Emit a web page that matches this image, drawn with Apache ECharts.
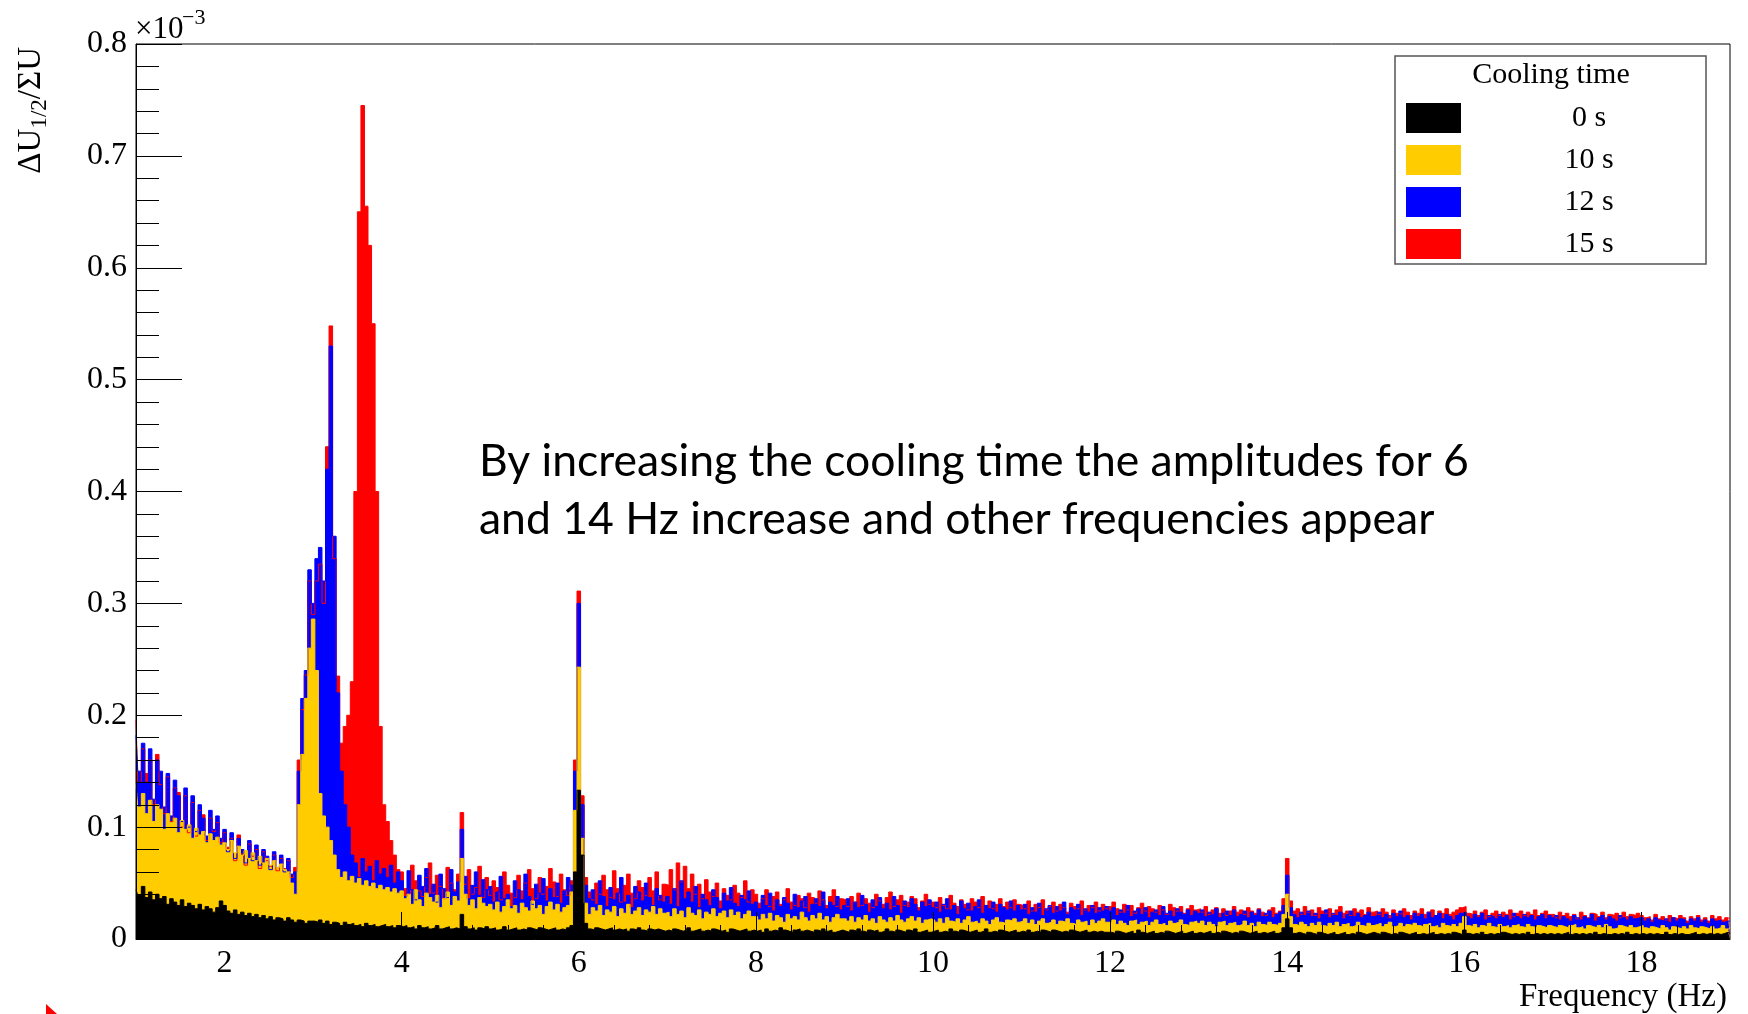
<!DOCTYPE html>
<html><head><meta charset="utf-8">
<script src="https://cdn.jsdelivr.net/npm/echarts@6/dist/echarts.min.js"></script>
<style>html,body{margin:0;padding:0;background:#fff}#c{width:1748px;height:1014px}</style>
</head><body><div id="c"></div>
<script>
// Histogram bin centres: 1.00, 1.04, ... 19.00 Hz
const FREQ_START = 1.0, FREQ_STEP = 0.04;
const xTickValues = [2, 4, 6, 8, 10, 12, 14, 16, 18];
const xMinorTickValues = [1.2,1.6,2.4,2.8,3.2,3.6,4.4,4.8,5.2,5.6,6.4,6.8,7.2,7.6,8.4,8.8,9.2,9.6,10.4,10.8,11.2,11.6,12.4,12.8,13.2,13.6,14.4,14.8,15.2,15.6,16.4,16.8,17.2,17.6,18.4,18.8];
const legendNames = ['0 s', '10 s', '12 s', '15 s'];
// Amplitudes in units of 1e-6 (axis shows x10^-3)
const cool0 = [
44,39,47,37,42,35,40,36,38,31,36,33,30,35,29,32,30,27,31,26,29,27,24,28,34,
30,25,23,26,22,24,21,23,20,22,19,21,18,20,17,19,18,16,19,17,15,17,16,14,16,
16,15,17,14,16,13,15,14,12,15,13,14,12,13,11,14,12,13,11,12,13,11,12,10,12,
11,12,10,11,9,12,10,11,9,10,12,9,10,11,9,10,9,22,11,9,10,8,10,9,11,
9,10,8,9,11,8,9,10,8,9,8,10,9,8,10,9,8,9,10,8,9,8,10,12,60,
133,75,14,9,8,10,9,8,9,10,8,9,8,9,7,9,8,10,8,7,9,8,9,8,7,
8,7,9,8,7,8,10,7,8,9,7,8,7,9,8,7,8,6,9,8,7,8,9,7,8,
7,8,6,9,7,8,7,10,8,7,6,8,9,7,8,7,6,8,7,9,7,8,6,7,8,
7,6,8,7,9,7,6,8,7,8,6,7,9,7,6,8,7,6,8,7,9,6,7,8,6,
7,8,6,7,6,9,7,6,8,7,6,7,8,6,7,9,6,7,6,8,7,6,7,8,6,
7,6,8,6,7,6,8,7,6,8,7,6,7,6,8,7,6,7,8,6,7,6,7,6,6,
6,5,7,6,5,6,7,5,8,6,5,6,7,5,6,5,7,6,5,6,7,5,6,7,5,
6,5,6,7,5,6,5,7,6,5,6,5,7,6,5,6,7,5,6,5,6,7,5,6,10,
18,10,5,6,5,4,6,5,4,6,5,4,5,6,4,5,6,4,5,4,6,5,4,5,6,
5,4,6,5,4,5,4,6,5,4,5,6,4,5,4,5,6,4,5,4,5,4,6,5,4,
8,5,4,5,4,6,4,5,4,5,4,6,5,4,5,4,5,4,6,4,5,4,5,4,5,
4,5,4,5,6,4,5,4,5,4,5,4,6,4,5,4,4,5,4,5,4,6,4,5,4,
5,4,5,4,5,4,4,6,4,5,4,5,4,4,5,6,4,5,4,5,4,5,4,5,6,
5];
const cool10 = [
138,118,130,112,124,105,120,116,98,112,104,108,95,106,98,102,90,99,93,96,86,94,88,91,84,
86,80,88,77,83,75,79,72,77,70,74,68,72,66,70,64,67,62,60,50,40,120,165,215,260,
286,240,130,110,100,88,75,62,55,60,52,56,50,54,48,52,47,50,45,48,44,46,42,45,41,
43,36,40,31,44,35,29,41,37,33,39,28,36,42,30,38,34,72,40,30,35,27,37,32,29,
31,26,33,24,29,35,27,30,23,32,28,25,34,27,30,22,29,33,26,31,24,28,30,42,115,
243,90,32,22,28,25,30,21,26,24,29,20,27,23,31,22,25,28,21,26,24,29,22,27,23,
24,20,27,22,25,19,28,23,21,26,18,24,22,27,20,23,25,19,26,21,24,18,22,25,20,
20,17,22,18,23,16,21,19,15,22,18,20,17,24,19,16,21,18,23,17,20,15,19,22,18,
18,16,20,15,19,17,21,16,18,14,20,17,15,19,16,21,17,15,18,20,16,19,14,17,18,
17,15,18,14,19,16,15,18,14,17,20,15,16,14,18,16,13,17,19,15,14,17,16,18,15,
16,18,14,17,13,16,18,14,15,17,13,16,15,18,14,13,17,15,16,12,17,14,16,18,15,
15,17,13,16,14,12,16,17,13,15,16,12,15,17,13,14,12,16,14,15,17,13,12,15,16,
14,16,12,15,13,11,15,16,12,14,15,12,13,16,12,14,11,15,13,12,15,13,12,14,22,
40,20,13,12,15,13,11,14,12,15,12,11,14,12,15,11,13,14,11,12,15,12,11,14,12,
13,14,11,13,15,11,12,14,11,13,12,14,12,11,13,14,11,12,10,14,12,11,13,11,14,
20,12,11,13,10,12,11,14,11,10,13,11,12,10,12,13,11,10,13,11,10,12,11,10,12,
11,10,12,11,10,12,13,10,11,9,12,11,10,12,10,13,11,9,10,12,11,10,12,10,11,
12,10,9,11,10,9,12,10,8,11,10,9,11,9,12,10,9,11,10,9,11,9,10,12,9,
10];
const cool12 = [
182,150,175,140,170,125,160,150,118,148,110,142,128,105,135,100,128,96,120,108,92,115,98,110,90,
98,78,95,72,90,80,68,88,70,84,66,80,74,62,78,64,75,60,72,58,60,150,215,240,330,
300,340,350,320,420,530,360,220,150,120,100,75,68,55,72,60,65,52,70,58,63,55,66,50,60,
52,38,61,44,35,57,47,63,40,49,33,58,45,37,62,42,51,98,56,36,48,60,39,53,44,
47,33,42,56,36,40,29,52,44,35,58,38,31,49,41,54,34,45,37,50,32,43,55,48,150,
300,120,48,36,44,31,52,38,29,46,35,41,55,33,39,28,47,42,34,50,37,30,45,39,33,
38,31,45,29,52,36,42,33,47,28,40,35,30,44,37,27,41,34,46,32,29,39,35,43,31,
33,27,39,30,41,25,35,29,37,32,26,40,28,34,38,24,31,36,29,42,27,33,30,38,26,
30,36,25,33,28,39,31,24,35,29,37,27,32,26,38,30,23,34,28,36,31,25,33,29,35,
28,33,24,31,36,26,30,22,34,27,32,25,29,35,23,30,27,33,24,31,28,26,34,25,30,
26,31,22,28,24,32,21,27,30,23,29,25,33,22,28,26,31,21,27,24,30,23,28,25,29,
25,28,21,26,23,30,20,25,27,22,28,19,24,26,21,29,23,25,20,27,24,22,26,21,25,
23,26,20,24,22,27,19,23,25,21,26,20,22,25,19,24,21,26,20,23,25,19,22,24,30,
57,28,22,19,24,21,25,20,23,18,22,26,19,23,21,24,18,22,25,20,23,19,21,24,20,
21,24,19,22,18,23,20,25,19,21,17,23,20,22,18,24,19,21,23,18,22,20,17,21,23,
24,20,18,22,19,23,17,21,20,18,22,19,21,17,23,20,18,22,19,21,17,20,22,18,21,
19,21,17,20,18,16,21,19,17,20,18,22,16,19,21,17,20,18,16,21,19,17,20,18,19,
19,16,18,15,19,17,16,18,15,19,16,18,17,14,18,16,19,15,17,14,18,16,17,15,16,
16];
const cool15 = [
196,140,170,148,160,120,165,138,112,145,105,135,131,100,128,95,122,92,115,111,88,108,96,104,86,
95,82,90,70,93,76,66,85,74,80,63,78,70,65,75,61,72,63,70,55,64,160,205,236,320,
290,320,335,300,440,548,340,235,175,190,200,230,400,650,745,655,620,550,400,190,120,105,88,75,62,
60,45,40,66,52,43,38,55,68,41,57,47,36,64,50,44,58,113,49,62,40,46,65,37,55,
39,52,46,35,60,48,41,37,57,43,50,62,45,36,55,40,47,63,51,38,58,44,39,52,160,
311,128,55,42,35,50,40,57,44,37,61,45,33,48,58,41,36,52,46,39,55,43,60,35,49,
48,62,44,68,51,65,45,58,40,49,36,53,42,38,50,34,45,39,35,48,41,37,52,33,44,
40,32,36,44,29,38,42,31,35,45,33,30,39,36,28,41,37,32,43,35,30,38,44,29,36,
35,29,38,33,41,30,36,32,28,40,34,31,37,42,29,35,39,30,33,38,36,28,34,40,31,
33,28,37,30,27,39,32,29,35,31,26,36,33,28,38,30,34,27,31,36,29,33,28,35,31,
30,27,34,25,31,28,35,26,29,33,25,31,28,24,32,29,27,34,26,30,28,33,25,31,27,
29,33,27,24,31,26,30,23,28,32,25,29,27,24,30,26,22,31,28,25,29,23,27,30,26,
27,24,29,22,26,28,23,27,21,25,29,24,26,22,28,25,23,27,24,21,26,28,23,25,36,
72,34,25,27,22,29,24,26,21,28,25,23,27,22,26,29,23,25,21,27,24,26,22,28,24,
25,22,27,24,21,26,23,22,27,24,21,25,23,27,22,24,26,21,25,23,27,22,24,26,28,
29,23,22,25,21,24,26,20,23,25,21,24,22,26,20,23,25,21,24,22,26,21,23,25,22,
22,19,24,21,23,20,22,18,24,21,19,23,22,20,24,19,22,21,23,19,24,20,22,21,23,
21,19,20,17,22,18,20,17,21,19,18,21,19,16,20,18,21,17,19,16,21,18,20,17,19,
18];

const SERIF = 'Liberation Serif';
const freq = cool0.map((_, k) => +(FREQ_START + FREQ_STEP * k).toFixed(2));
const toPairs = arr => arr.map((v, k) => [freq[k], v / 1000]);

function hist(name, arr, color) {
  return {
    name, type: 'line', step: 'middle', data: toPairs(arr),
    symbol: 'none', showSymbol: false, silent: true,
    lineStyle: { color, width: 1 }, itemStyle: { color },
    areaStyle: { color, opacity: 1 },
    emphasis: { disabled: true }, animation: false
  };
}

const chart = echarts.init(document.getElementById('c'), null, { renderer: 'canvas' });
chart.setOption({
  backgroundColor: '#fff',
  animation: false,
  grid: { left: 136, right: 18, top: 44, bottom: 75, show: true, borderColor: '#000', borderWidth: 1, backgroundColor: 'transparent' },
  xAxis: [{
    type: 'value', min: 1, max: 19, z: 5,
    axisLine: { show: true, onZero: false, lineStyle: { color: '#000', width: 1 } },
    axisTick: { show: true, inside: true, length: 27, customValues: xTickValues, lineStyle: { color: '#000', width: 1 } },
    axisLabel: { customValues: xTickValues, fontFamily: SERIF, fontSize: 32, color: '#000', margin: 9 },
    splitLine: { show: false }
  }, {
    type: 'value', min: 1, max: 19, z: 5, position: 'bottom',
    axisLine: { show: false },
    axisTick: { show: true, inside: true, length: 14, customValues: xMinorTickValues, lineStyle: { color: '#000', width: 1 } },
    axisLabel: { show: false, customValues: xMinorTickValues },
    splitLine: { show: false }
  }],
  yAxis: {
    type: 'value', min: 0, max: 0.8, interval: 0.1, z: 5,
    axisLine: { show: true, lineStyle: { color: '#000', width: 1 } },
    axisTick: { show: true, inside: true, length: 46, lineStyle: { color: '#000', width: 1 } },
    minorTick: { show: true, splitNumber: 5, length: 23, lineStyle: { color: '#000', width: 1 } },
    splitLine: { show: false },
    axisLabel: { fontFamily: SERIF, fontSize: 32, color: '#000', margin: 9 }
  },
  legend: {
    data: legendNames, orient: 'vertical', left: 1406, top: 103, padding: 0,
    itemWidth: 55, itemHeight: 30, itemGap: 12, icon: 'rect', selectedMode: false, z: 6,
    formatter: n => '{c|' + n + '}',
    textStyle: { rich: { c: { width: 246, align: 'center', fontFamily: SERIF, fontSize: 30, color: '#000' } } }
  },
  series: [
    hist('15 s', cool15, '#ff0000'),
    hist('12 s', cool12, '#0000ff'),
    hist('10 s', cool10, '#ffcc00'),
    hist('0 s', cool0, '#000000')
  ],
  graphic: [
    { type: 'rect', z: 5, shape: { x: 1395, y: 56, width: 311, height: 208 }, style: { fill: '#fff', stroke: '#555', lineWidth: 1.5 } },
    { type: 'text', z: 6, x: 1551, y: 75, style: { text: 'Cooling time', fontFamily: SERIF, fontSize: 30, fill: '#000', align: 'center', verticalAlign: 'middle' } },
    { type: 'text', z: 6, x: 135, y: 30, style: { text: '×10', fontFamily: SERIF, fontSize: 31, fill: '#000', align: 'left', verticalAlign: 'middle' } },
    { type: 'text', z: 6, x: 182, y: 18, style: { text: '−3', fontFamily: SERIF, fontSize: 22, fill: '#000', align: 'left', verticalAlign: 'middle' } },
    { type: 'text', z: 6, x: 31, y: 47, rotation: Math.PI / 2,
      style: { text: '{a|ΔU}{b|1/2}{a|/ΣU}', align: 'right', verticalAlign: 'middle', fill: '#000',
        rich: { a: { fontFamily: SERIF, fontSize: 33, lineHeight: 40, fill: '#000' },
                b: { fontFamily: SERIF, fontSize: 23, lineHeight: 18, verticalAlign: 'bottom', fill: '#000' } } } },
    { type: 'text', z: 6, x: 1727, y: 997, style: { text: 'Frequency (Hz)', fontFamily: SERIF, fontSize: 33, fill: '#000', align: 'right', verticalAlign: 'middle' } },
    { type: 'text', z: 6, x: 479, y: 462, style: { text: 'By increasing the cooling time the amplitudes for 6', fontFamily: 'Lato', fontSize: 44.5, fill: '#000', align: 'left', verticalAlign: 'middle' } },
    { type: 'text', z: 6, x: 479, y: 520, style: { text: 'and 14 Hz increase and other frequencies appear', fontFamily: 'Lato', fontSize: 44.5, fill: '#000', align: 'left', verticalAlign: 'middle' } },
    { type: 'polygon', z: 6, shape: { points: [[46, 1004], [46, 1014], [57, 1014]] }, style: { fill: '#ff0000' } }
  ]
});
</script></body></html>
